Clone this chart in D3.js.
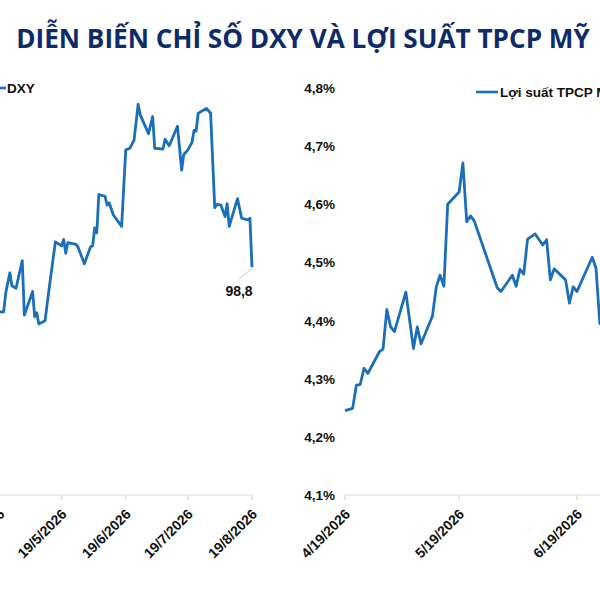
<!DOCTYPE html>
<html>
<head>
<meta charset="utf-8">
<script src="https://cdn.jsdelivr.net/npm/d3@7"></script>
<style>
  body { margin: 0; background: #fff; }
  svg { display: block; }
</style>
</head>
<body>
<svg id="chart" width="600" height="600"></svg>
<script>
// DXY (left panel)
const dxyDates = [
  "2026-04-19","2026-04-21","2026-04-22","2026-04-24","2026-04-25","2026-04-27","2026-04-30",
  "2026-05-01","2026-05-05","2026-05-06","2026-05-07","2026-05-08","2026-05-11","2026-05-13",
  "2026-05-16","2026-05-19","2026-05-20","2026-05-21","2026-05-22","2026-05-26","2026-05-27",
  "2026-05-30","2026-06-02","2026-06-03","2026-06-04","2026-06-05","2026-06-06","2026-06-09",
  "2026-06-10","2026-06-11","2026-06-13","2026-06-17","2026-06-19","2026-06-21","2026-06-23",
  "2026-06-25","2026-06-26","2026-06-30","2026-07-02","2026-07-03","2026-07-07","2026-07-08",
  "2026-07-10","2026-07-14","2026-07-16","2026-07-17","2026-07-19","2026-07-21","2026-07-22",
  "2026-07-23","2026-07-24","2026-07-28","2026-07-30","2026-08-01","2026-08-02","2026-08-04",
  "2026-08-06","2026-08-07","2026-08-08","2026-08-12","2026-08-14","2026-08-17","2026-08-18",
  "2026-08-19"
];
const dxyValues = [
  98.25, 98.25, 98.48, 98.73, 98.57, 98.54, 98.88,
  98.21, 98.50, 98.19, 98.24, 98.10, 98.14, 98.54,
  99.11, 99.06, 99.14, 98.97, 99.10, 99.08, 99.04,
  98.84, 99.05, 99.06, 99.28, 99.22, 99.69, 99.67,
  99.56, 99.59, 99.44, 99.30, 100.24, 100.26, 100.36,
  100.80, 100.67, 100.44, 100.65, 100.26, 100.25, 100.37,
  100.29, 100.53, 99.99, 100.18, 100.24, 100.33, 100.48,
  100.47, 100.69, 100.75, 100.69, 99.53, 99.57, 99.56,
  99.42, 99.58, 99.30, 99.64, 99.40, 99.38, 99.40,
  98.80
];
const dxyTicks = ["2026-04-19","2026-05-19","2026-06-19","2026-07-19","2026-08-19"];
const dxyLastLabel = "98,8";

// Lợi suất TPCP Mỹ (right panel)
const yieldDates = [
  "2026-04-19","2026-04-21","2026-04-22","2026-04-23","2026-04-24","2026-04-25","2026-04-28",
  "2026-04-29","2026-04-30","2026-05-01","2026-05-02","2026-05-05","2026-05-07","2026-05-08",
  "2026-05-09","2026-05-12","2026-05-13","2026-05-14","2026-05-15","2026-05-16","2026-05-19",
  "2026-05-20","2026-05-21","2026-05-22","2026-05-23","2026-05-29","2026-05-30","2026-06-02",
  "2026-06-03","2026-06-04","2026-06-05","2026-06-06","2026-06-08","2026-06-10","2026-06-11",
  "2026-06-12","2026-06-13","2026-06-16","2026-06-17","2026-06-18","2026-06-19","2026-06-23",
  "2026-06-24","2026-06-25","2026-06-26"
];
const yieldValues = [
  4.245, 4.249, 4.289, 4.290, 4.318, 4.309, 4.346,
  4.351, 4.419, 4.389, 4.381, 4.449, 4.352, 4.389,
  4.360, 4.408, 4.458, 4.478, 4.459, 4.600, 4.621,
  4.671, 4.570, 4.580, 4.571, 4.457, 4.450, 4.478,
  4.459, 4.488, 4.480, 4.540, 4.549, 4.530, 4.539,
  4.470, 4.489, 4.470, 4.430, 4.458, 4.450, 4.509,
  4.490, 4.395, 4.390
];
const yieldTicks = ["2026-04-19","2026-05-19","2026-06-19","2026-07-19","2026-08-19"];
const yieldYTicks = [4.1, 4.2, 4.3, 4.4, 4.5, 4.6, 4.7, 4.8];

const title = "DIỄN BIẾN CHỈ SỐ DXY VÀ LỢI SUẤT TPCP MỸ";

const parse = d3.timeParse("%Y-%m-%d");
const lineColor = "#1b6fba";
const axisColor = "#d9d9d9";
const labelFont = "'Liberation Sans', Arial, sans-serif";

const svg = d3.select("#chart");
svg.append("rect").attr("width", 600).attr("height", 600).attr("fill", "#fff");

// title, sized to span the width
const t = svg.append("text")
    .attr("x", 303)
    .attr("y", 48)
    .attr("text-anchor", "middle")
    .attr("font-family", "'Open Sans', sans-serif")
    .attr("font-weight", 700)
    .attr("font-size", 24)
    .attr("fill", "#0d2b68")
    .text(title);
const tw = t.node().getComputedTextLength();
t.attr("font-size", 24 * 574 / tw);

// ---------- left panel: DXY ----------
const dxyData = dxyDates.map((d, i) => ({ date: parse(d), value: dxyValues[i] }));
const xL = d3.scaleTime()
    .domain([parse("2026-04-19"), parse("2026-08-19")])
    .range([-0.5, 252]);
const yL = d3.scaleLinear().domain([96, 101]).range([495, 88]);

const left = svg.append("g");
left.append("line")
    .attr("x1", -10).attr("x2", 253)
    .attr("y1", 495).attr("y2", 495)
    .attr("stroke", axisColor).attr("stroke-width", 1.2);

dxyTicks.forEach(d => {
    const x = xL(parse(d));
    left.append("line")
        .attr("x1", x).attr("x2", x).attr("y1", 495).attr("y2", 500)
        .attr("stroke", axisColor).attr("stroke-width", 1.2);
    const p = d.split("-");
    left.append("text")
        .attr("transform", `translate(${x + 6},${515}) rotate(-45)`)
        .attr("text-anchor", "end")
        .attr("font-family", labelFont)
        .attr("font-weight", 700)
        .attr("font-size", 14)
        .attr("fill", "#111")
        .text(`${+p[2]}/${+p[1]}/${p[0]}`);
});

left.append("path")
    .datum(dxyData)
    .attr("fill", "none")
    .attr("stroke", lineColor)
    .attr("stroke-width", 2.8)
    .attr("stroke-linejoin", "round")
    .attr("d", d3.line().x(d => xL(d.date)).y(d => yL(d.value)));

// data label on last point
const last = dxyData[dxyData.length - 1];
left.append("line")
    .attr("x1", xL(last.date) - 1).attr("y1", yL(last.value) + 2)
    .attr("x2", xL(last.date) - 13).attr("y2", yL(last.value) + 12)
    .attr("stroke", "#bbb").attr("stroke-width", 0.8);
left.append("text")
    .attr("x", 239).attr("y", yL(last.value) + 29)
    .attr("text-anchor", "middle")
    .attr("font-family", labelFont)
    .attr("font-weight", 700)
    .attr("font-size", 14)
    .attr("fill", "#111")
    .text(dxyLastLabel);

// legend
left.append("line")
    .attr("x1", -2).attr("x2", 6).attr("y1", 88).attr("y2", 88)
    .attr("stroke", lineColor).attr("stroke-width", 2.6);
left.append("text")
    .attr("x", 7).attr("y", 93)
    .attr("font-family", labelFont)
    .attr("font-weight", 700)
    .attr("font-size", 13.5)
    .attr("fill", "#111")
    .text("DXY");

// ---------- right panel: yield ----------
const yieldData = yieldDates.map((d, i) => ({ date: parse(d), value: yieldValues[i] }));
const xR = d3.scaleTime()
    .domain([parse("2026-04-19"), parse("2026-06-19")])
    .range([345, 577]);
const yR = d3.scaleLinear().domain([4.1, 4.8]).range([495, 88]);

const right = svg.append("g");
right.append("line")
    .attr("x1", 345).attr("x2", 620)
    .attr("y1", 495).attr("y2", 495)
    .attr("stroke", axisColor).attr("stroke-width", 1.2);

yieldYTicks.forEach(v => {
    right.append("text")
        .attr("x", 335).attr("y", yR(v) + 5)
        .attr("text-anchor", "end")
        .attr("font-family", labelFont)
        .attr("font-weight", 700)
        .attr("font-size", 13.5)
        .attr("fill", "#111")
        .text(d3.format(".1f")(v).replace(".", ",") + "%");
});

yieldTicks.forEach(d => {
    const x = xR(parse(d));
    right.append("line")
        .attr("x1", x).attr("x2", x).attr("y1", 495).attr("y2", 500)
        .attr("stroke", axisColor).attr("stroke-width", 1.2);
    const p = d.split("-");
    right.append("text")
        .attr("transform", `translate(${x + 6},${515}) rotate(-45)`)
        .attr("text-anchor", "end")
        .attr("font-family", labelFont)
        .attr("font-weight", 700)
        .attr("font-size", 14)
        .attr("fill", "#111")
        .text(`${+p[1]}/${+p[2]}/${p[0]}`);
});

right.append("path")
    .datum(yieldData)
    .attr("fill", "none")
    .attr("stroke", lineColor)
    .attr("stroke-width", 2.8)
    .attr("stroke-linejoin", "round")
    .attr("d", d3.line().x(d => xR(d.date)).y(d => yR(d.value)));

right.append("line")
    .attr("x1", 476).attr("x2", 498).attr("y1", 92).attr("y2", 92)
    .attr("stroke", lineColor).attr("stroke-width", 2.6);
right.append("text")
    .attr("x", 500).attr("y", 97)
    .attr("font-family", labelFont)
    .attr("font-weight", 700)
    .attr("font-size", 13.5)
    .attr("fill", "#111")
    .text("Lợi suất TPCP Mỹ");
</script>
</body>
</html>
